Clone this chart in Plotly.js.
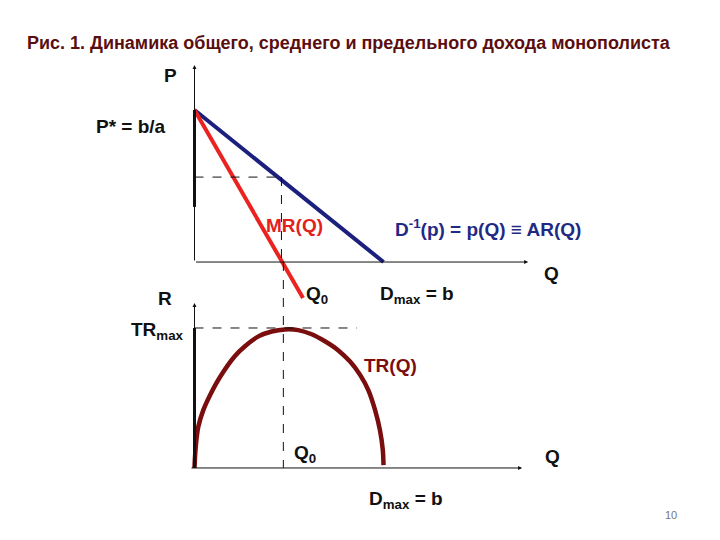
<!DOCTYPE html>
<html>
<head>
<meta charset="utf-8">
<script src="https://cdn.plot.ly/plotly-3.0.1.min.js"></script>
<style>html,body{margin:0;padding:0;background:#fff;}#chart{width:720px;height:540px;}</style>
</head>
<body>
<div id="chart"></div>
<script>
// ---- data (economic units: Q quantity, P price, R revenue) ----
const P_STAR = 8;          // P* = b/a
const D_MAX = 10;          // Dmax = b
const Q0 = 4.7;            // output where MR = 0
const P_Q0 = 4.47;         // price level of dashed guide
const TR_MAX = 20;         // TRmax

const arQ = [0, 10];        // demand / average revenue line
const arP = [8, 0];
const mrQ = [0, 5.74];      // marginal revenue line
const mrP = [8, -1.9];
const trQ = [0, 0.01, 0.08, 0.2, 0.47, 0.82, 1.35, 2.14, 2.67, 3.38, 4.08, 4.79, 5.49, 6.2, 6.9, 7.61, 8.23, 8.76, 9.2, 9.55, 9.81, 9.96, 10.0];
const trR = [0, 0.7, 3.5, 5.9, 8.3, 10.4, 13.0, 16.0, 17.4, 18.8, 19.5, 19.8, 19.7, 19.1, 18.1, 16.8, 15.2, 13.3, 11.1, 8.3, 5.4, 2.6, 0.4];

const P_AXIS_TOP = 10.37, Q_AXIS_END_TOP = 17.65;
const R_AXIS_TOP = 23.57, Q_AXIS_END_BOT = 17.33;
const P_THICK_LOW = 2.9;
const DASH_TR_END = 8.6;

// ---- helpers for paper placement of labels ----
const W = 720, H = 540;
const px = x => x / W;
const py = y => 1 - y / H;

const F = 'Liberation Sans, Arial, sans-serif';
const black = '#111';
const LS = 19;

const traces = [
  {x: arQ, y: arP, type: 'scatter', mode: 'lines', xaxis: 'x', yaxis: 'y',
   line: {color: '#1b1f7d', width: 4}, hoverinfo: 'skip'},
  {x: mrQ, y: mrP, type: 'scatter', mode: 'lines', xaxis: 'x', yaxis: 'y',
   line: {color: '#ea2320', width: 4}, hoverinfo: 'skip'},
  {x: trQ, y: trR, type: 'scatter', mode: 'lines', xaxis: 'x', yaxis: 'y2',
   line: {color: '#7a0d0d', width: 4.5, shape: 'spline', smoothing: 0.8}, hoverinfo: 'skip'}
];

function axisArrow(xref, yref, x, y, ax, ay) {
  return {x: x, y: y, ax: ax, ay: ay, xref: xref, yref: yref, axref: xref, ayref: yref,
          text: '', showarrow: true, arrowhead: 2, arrowsize: 0.8, arrowwidth: 1, arrowcolor: black};
}
function label(text, x, y, size, color, anchor) {
  return {x: px(x), y: py(y), xref: 'paper', yref: 'paper', text: text, showarrow: false,
    xanchor: anchor || 'center', yanchor: 'middle',
    font: {family: F, size: size, color: color || black}};
}

const annotations = [
  axisArrow('x', 'y', 0, P_AXIS_TOP, 0, 0),
  axisArrow('x', 'y', Q_AXIS_END_TOP, 0, 0, 0),
  axisArrow('x', 'y2', 0, R_AXIS_TOP, 0, 0),
  axisArrow('x', 'y2', Q_AXIS_END_BOT, 0, -0.24, 0),

  label('<b>Рис. 1. Динамика общего, среднего и предельного дохода монополиста</b>', 349, 43, 18, '#5a0e0e'),
  label('<b>P</b>', 170, 76, LS),
  label('<b>P* = b/a</b>', 131, 126, LS),
  label('<b>MR(Q)</b>', 294, 225, LS, '#e2211c'),
  label('<b>D<sup>-1</sup>(p) = p(Q) ≡ AR(Q)</b>', 488, 228, LS, '#1f2a85'),
  label('<b>Q</b>', 551, 273, LS),
  label('<b>Q<sub>0</sub></b>', 304, 295, LS, black, 'left'),
  label('<b>D<sub>max</sub> = b</b>', 378, 295, LS, black, 'left'),
  label('<b>R</b>', 165, 298, LS),
  label('<b>TR<sub>max</sub></b>', 129, 331, LS, black, 'left'),
  label('<b>TR(Q)</b>', 391, 365, LS, '#7a0d0d'),
  label('<b>Q<sub>0</sub></b>', 292, 454, LS, black, 'left'),
  label('<b>Q</b>', 552, 456, LS),
  label('<b>D<sub>max</sub> = b</b>', 367, 500, LS, black, 'left'),
  label('10', 671, 515, 11, '#777')
];

const shapes = [
  // thick segments on the vertical axes
  {type: 'line', xref: 'x', yref: 'y', x0: 0, x1: 0, y0: P_THICK_LOW, y1: P_STAR, line: {color: black, width: 3}},
  {type: 'line', xref: 'x', yref: 'y2', x0: 0, x1: 0, y0: 0, y1: TR_MAX, line: {color: black, width: 3}},
  // dashed guides
  {type: 'line', xref: 'x', yref: 'y', x0: 0, x1: Q0 - 0.15, y0: P_Q0, y1: P_Q0, line: {color: black, width: 1, dash: 'dash'}},
  {type: 'line', xref: 'x', yref: 'paper', x0: Q0 - 0.1, x1: Q0 - 0.1, y0: py(177), y1: py(262), line: {color: black, width: 1, dash: 'dash'}},
  {type: 'line', xref: 'x', yref: 'paper', x0: Q0, x1: Q0, y0: py(262), y1: py(468), line: {color: black, width: 1, dash: 'dash'}},
  {type: 'line', xref: 'x', yref: 'y2', x0: 0, x1: DASH_TR_END, y0: TR_MAX, y1: TR_MAX, line: {color: black, width: 1, dash: 'dash'}}
];

const layout = {
  width: W, height: H,
  margin: {l: 0, r: 0, t: 0, b: 0},
  paper_bgcolor: '#fff', plot_bgcolor: 'rgba(0,0,0,0)',
  showlegend: false,
  xaxis: {range: [-10.29, 27.80], visible: false, fixedrange: true},
  yaxis: {range: [-14.63, 13.79], visible: false, fixedrange: true},
  yaxis2: {range: [-10.29, 66.86], visible: false, fixedrange: true, overlaying: 'y'},
  annotations: annotations,
  shapes: shapes
};

Plotly.newPlot('chart', traces, layout, {staticPlot: true, displayModeBar: false});
</script>
</body>
</html>
